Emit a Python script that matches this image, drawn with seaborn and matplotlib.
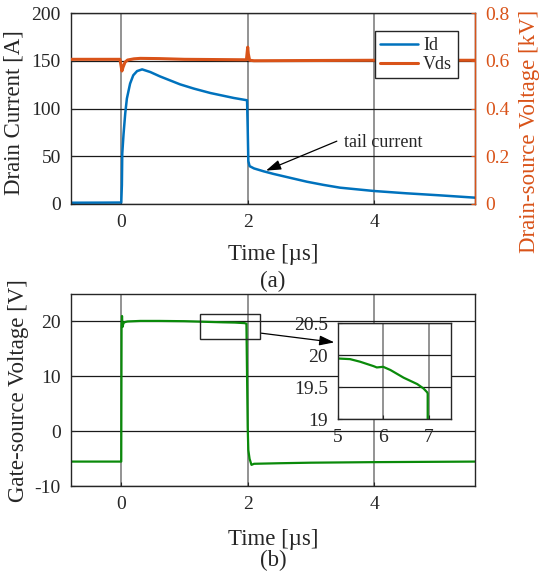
import pandas as pd
import matplotlib.pyplot as plt
import matplotlib.patches as patches
import seaborn as sns

# (a) drain current [A] and drain-source voltage [kV] against time [us]
t_id = [-0.8, -0.3, 0.0, 0.01, 0.016, 0.037, 0.063, 0.089, 0.14, 0.19, 0.25, 0.33,
        0.46, 0.61, 0.77, 0.93, 1.15, 1.41, 1.78, 1.99, 2.0, 2.01, 2.03, 2.1, 2.25,
        2.41, 2.7, 2.94, 3.2, 3.46, 4.0, 4.51, 5.03, 5.6]
id_a = [1.3, 1.4, 1.5, 20, 53, 74, 95, 110.6, 126.3, 135, 139.4, 141.2,
        138.4, 133.9, 129.7, 125.5, 121, 116.4, 111.2, 108.8, 80, 45, 39.7, 37.3, 34.3,
        31.5, 27.0, 23.3, 20.0, 17.1, 13.6, 11.2, 9.1, 6.6]

t_vds = [-0.8, -0.02, 0.0, 0.01, 0.03, 0.06, 0.1, 0.2, 0.3, 0.6, 1.0, 1.5,
         1.98, 2.0, 2.01, 2.03, 2.1, 3.0, 4.0, 5.6]
vds_kv = [0.607, 0.607, 0.575, 0.558, 0.575, 0.595, 0.604, 0.609, 0.611, 0.610, 0.607, 0.606,
          0.605, 0.658, 0.630, 0.603, 0.601, 0.602, 0.603, 0.603]

# (b) gate-source voltage [V]
t_vgs = [-0.8, -0.01, 0.0, 0.005, 0.012, 0.02, 0.035, 0.06, 0.1, 0.3, 0.6, 1.0, 1.3,
         1.6, 1.8, 1.95, 1.98, 1.99, 2.0, 2.01, 2.03, 2.06, 2.1, 2.5, 3.0, 4.0, 5.6]
vgs_v = [-5.5, -5.5, -5.5, 19, 21, 19.0, 19.7, 19.9, 20.0, 20.1, 20.1, 20.05, 19.95,
         19.85, 19.8, 19.7, 19.6, 10, 0.8, -3.4, -5.0, -6.1, -5.9, -5.8, -5.7, -5.6, -5.5]

# inset: zoom of the gate plateau before turn-off
t_zoom = [5.0, 5.27, 5.49, 5.79, 5.86, 6.0, 6.16, 6.45, 6.75, 6.89, 6.97, 6.98, 6.98]
vgs_zoom = [19.95, 19.94, 19.90, 19.83, 19.81, 19.82, 19.77, 19.65, 19.55, 19.48, 19.42, 19.40, 19.0]

time_ticks = [0, 2, 4]
id_ticks = [0, 50, 100, 150, 200]
vds_ticks = [0, 0.2, 0.4, 0.6, 0.8]
vds_ticklabels = ['0', '0.2', '0.4', '0.6', '0.8']
vgs_ticks = [-10, 0, 10, 20]
zoom_xticks = [5, 6, 7]
zoom_yticks = [19, 19.5, 20, 20.5]
zoom_yticklabels = ['19', '19.5', '20', '20.5']

blue = '#0072BD'
orange = '#D95319'
green = '#0A8A0A'
ink = '#262626'

sns.set_style("ticks")
plt.rcParams['font.family'] = ['Liberation Serif', 'DejaVu Serif']
plt.rcParams['text.color'] = ink
plt.rcParams['axes.unicode_minus'] = False

fig = plt.figure(figsize=(5.42, 5.72), dpi=100)
ax1 = fig.add_axes([0.1304, 0.6434, 0.7465, 0.3333])
ax2 = fig.add_axes([0.1304, 0.1498, 0.7465, 0.3362])


def style_axes(ax, fs=14):
    ax.tick_params(direction='in', length=3, width=0.8, labelsize=fs, colors=ink, pad=7)
    ax.xaxis.grid(True, color='0.5', lw=1.2)
    ax.yaxis.grid(True, color='0.1', lw=0.9)
    for s in ax.spines.values():
        s.set_color(ink)
        s.set_linewidth(1.0)


# ---- (a)
df_id = pd.DataFrame({'t': t_id, 'Id': id_a})
sns.lineplot(data=df_id, x='t', y='Id', ax=ax1, color=blue, lw=1.8,
             sort=False, estimator=None, label='Id')
ax1.set_xlim(-0.8, 5.6)
ax1.set_ylim(0, 200)
ax1.set_xticks(time_ticks)
ax1.set_yticks(id_ticks)
style_axes(ax1)
ax1.set_ylabel('Drain Current [A]', fontsize=16.5, va='center')
ax1.yaxis.set_label_coords(-0.14, 0.48)
ax1.set_xlabel('Time [µs]', fontsize=16.5, va='center')
ax1.xaxis.set_label_coords(0.5, -0.265)

ax1r = ax1.twinx()
df_vds = pd.DataFrame({'t': t_vds, 'Vds': vds_kv})
sns.lineplot(data=df_vds, x='t', y='Vds', ax=ax1r, color=orange, lw=2.2,
             sort=False, estimator=None, label='Vds')
ax1r.set_ylim(0, 0.8)
ax1r.set_yticks(vds_ticks)
ax1r.set_yticklabels(vds_ticklabels)
ax1r.tick_params(direction='in', length=3, width=0.8, labelsize=14, colors=orange, pad=7)
for side in ['left', 'top', 'bottom']:
    ax1r.spines[side].set_visible(False)
ax1r.spines['right'].set_color(orange)
ax1r.spines['right'].set_linewidth(1.0)
ax1r.set_ylabel('Drain-source Voltage [kV]', fontsize=16.5, color=orange, va='center')
ax1r.yaxis.set_label_coords(1.135, 0.38)

h1, l1 = ax1.get_legend_handles_labels()
h2, l2 = ax1r.get_legend_handles_labels()
ax1.get_legend().remove()
leg = ax1r.legend(h1 + h2, l1 + l2, loc='upper right', bbox_to_anchor=(0.9565, 0.905),
                  borderaxespad=0, fontsize=13, fancybox=False, framealpha=1,
                  edgecolor=ink, handlelength=2.1, borderpad=0.3, labelspacing=0.12,
                  handletextpad=0.3)
leg.get_frame().set_linewidth(1.0)

ax1.annotate('', xy=(2.29, 35.0), xytext=(3.41, 65.9),
             arrowprops=dict(arrowstyle='-|>,head_length=0.9,head_width=0.3',
                             color='black', lw=0.9, shrinkA=0, shrinkB=0))
ax1.text(3.52, 64.5, 'tail current', fontsize=13, ha='left', va='center')

# ---- (b)
df_vgs = pd.DataFrame({'t': t_vgs, 'Vgs': vgs_v})
sns.lineplot(data=df_vgs, x='t', y='Vgs', ax=ax2, color=green, lw=1.6,
             sort=False, estimator=None)
ax2.set_xlim(-0.8, 5.6)
ax2.set_ylim(-10, 25)
ax2.set_xticks(time_ticks)
ax2.set_yticks(vgs_ticks)
style_axes(ax2)
ax2.set_ylabel('Gate-source Voltage [V]', fontsize=16.5, va='center')
ax2.yaxis.set_label_coords(-0.128, 0.5)
ax2.set_xlabel('Time [µs]', fontsize=16.5, va='center')
ax2.xaxis.set_label_coords(0.5, -0.274)

ax2.add_patch(patches.Rectangle((1.25, 16.9), 0.95, 4.5, fill=False, ec=ink, lw=1.0, zorder=5))
ax2.annotate('', xy=(3.37, 16.2), xytext=(2.215, 17.87), annotation_clip=False,
             arrowprops=dict(arrowstyle='-|>,head_length=0.9,head_width=0.3',
                             color='black', lw=0.9, shrinkA=0, shrinkB=0))

axins = fig.add_axes([0.6231, 0.2670, 0.2096, 0.1678])
df_zoom = pd.DataFrame({'t': t_zoom, 'Vgs': vgs_zoom})
sns.lineplot(data=df_zoom, x='t', y='Vgs', ax=axins, color=green, lw=1.6,
             sort=False, estimator=None)
axins.set_xlim(5, 7.5)
axins.set_ylim(19, 20.5)
axins.set_xticks(zoom_xticks)
axins.set_yticks(zoom_yticks)
axins.set_yticklabels(zoom_yticklabels)
style_axes(axins)
axins.set_xlabel('')
axins.set_ylabel('')
axins.set_facecolor('white')

fig.text(0.504, 1 - 281 / 572, '(a)', ha='center', va='center', fontsize=16.5)
fig.text(0.504, 1 - 560 / 572, '(b)', ha='center', va='center', fontsize=16.5)

fig.savefig('out.png', dpi=100)
